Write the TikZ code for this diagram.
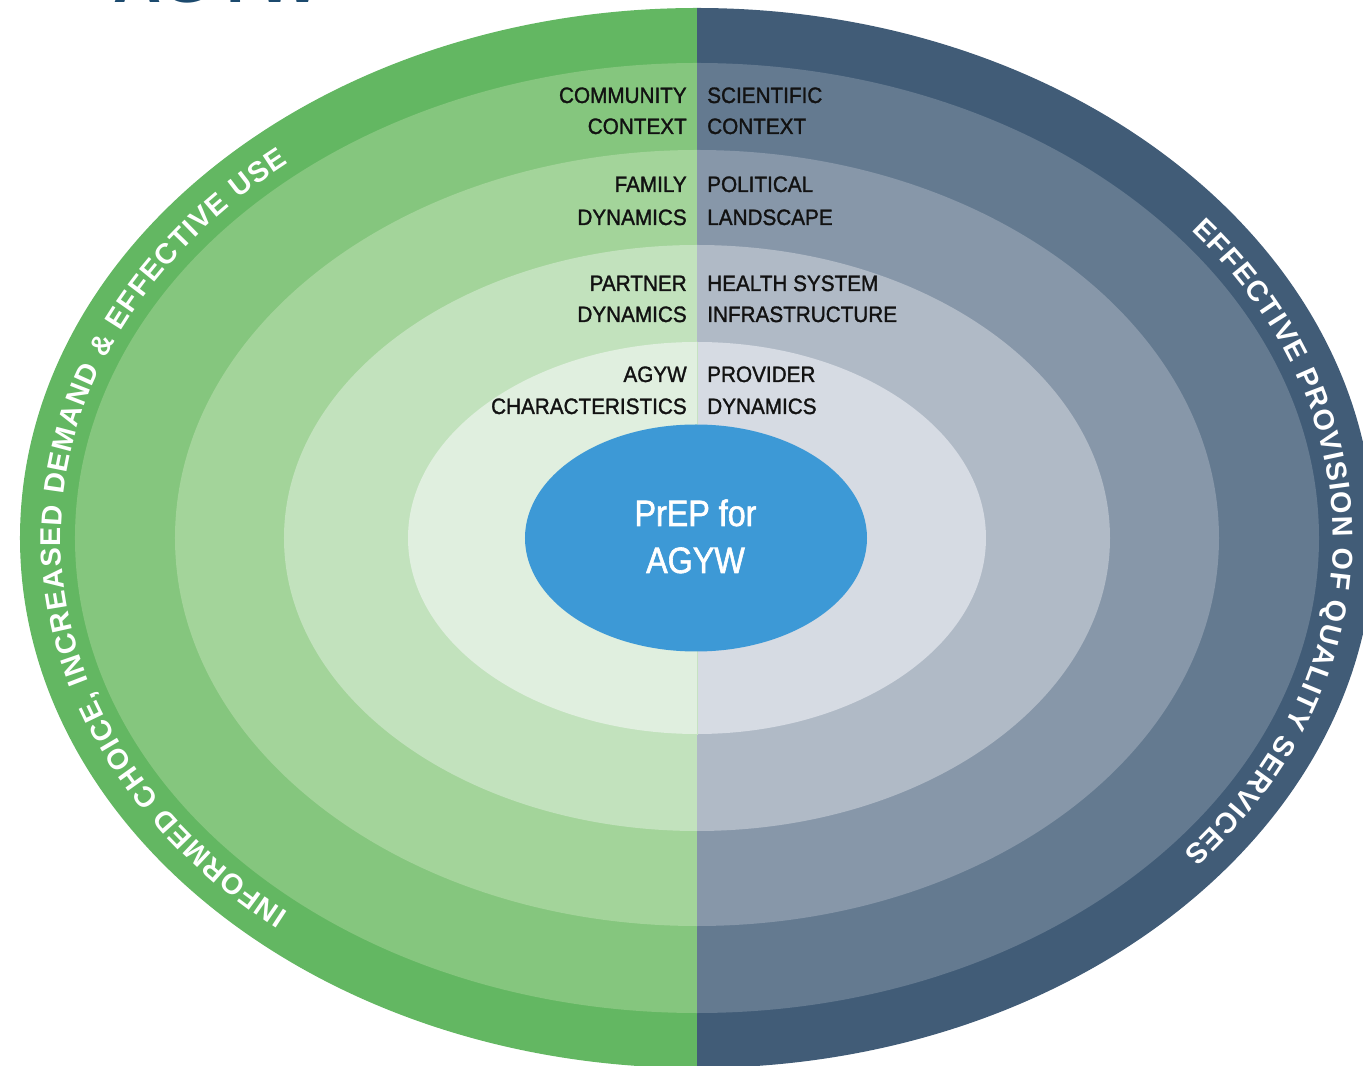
\documentclass[tikz,border=0pt]{standalone}
\usepackage{fontspec}
\setmainfont{Liberation Sans}
\newfontfamily\condfont{Liberation Sans}[FakeStretch=0.93, FakeBold=1.4]
\newfontfamily\corefont{Liberation Sans}[FakeStretch=0.88, FakeBold=1.6]
\usetikzlibrary{decorations.text,shapes.geometric}
\definecolor{gA}{HTML}{63B762}
\definecolor{gB}{HTML}{85C67E}
\definecolor{gC}{HTML}{A3D49A}
\definecolor{gD}{HTML}{C2E2BD}
\definecolor{gE}{HTML}{E0EFDF}
\definecolor{bA}{HTML}{415C77}
\definecolor{bB}{HTML}{647A90}
\definecolor{bC}{HTML}{8797A9}
\definecolor{bD}{HTML}{B0BAC6}
\definecolor{bE}{HTML}{D6DBE3}
\definecolor{corecol}{HTML}{3D99D6}
\definecolor{labtxt}{HTML}{121212}
\definecolor{titlecol}{HTML}{1C4A6E}
\definecolor{seam}{HTML}{C6E2C2}
\tikzset{
  lab/.style={font=\condfont\fontsize{16.7}{20}\selectfont, text=labtxt, inner sep=0pt},
  coretext/.style={font=\corefont\fontsize{27.5}{30}\selectfont, text=white, inner sep=0pt, anchor=base},
  arclabel/.style={decorate, decoration={text along path, text align={fit to path}, text color=white, text={#1}}}
}
\begin{document}
\begin{tikzpicture}[x=0.75pt,y=0.75pt]
\useasboundingbox (-697,-528) rectangle (666,538);
% concentric half-ellipses
\foreach \rx/\ry/\g/\b in {677/530/gA/bA, 622/475/gB/bB, 522/388/gC/bC, 413/293/gD/bD, 289/196/gE/bE} {
  \fill[\g] (0,\ry) arc[start angle=90, end angle=270, x radius=\rx, y radius=\ry] -- cycle;
  \fill[\b] (0,-\ry) arc[start angle=-90, end angle=90, x radius=\rx, y radius=\ry] -- cycle;
}
\draw[seam, line width=0.75pt] (0.5,196) -- (0.5,-197);
% centre
\node[ellipse, fill=corecol, minimum width=256.5pt, minimum height=170.25pt, inner sep=0pt] (core) at (-1,0) {};
\node[coretext] (prepA) at (-1.5,12) {PrEP for};
\node[coretext] (prepB) at (-1.5,-35) {AGYW};
% left labels
\node[lab, anchor=base east] (commA) at (-10,435) {COMMUNITY};
\node[lab, anchor=base east] (commB) at (-10,404) {CONTEXT};
\node[lab, anchor=base east] (famA) at (-10,346) {FAMILY};
\node[lab, anchor=base east] (famB) at (-10,313) {DYNAMICS};
\node[lab, anchor=base east] (partA) at (-10,247) {PARTNER};
\node[lab, anchor=base east] (partB) at (-10,216) {DYNAMICS};
\node[lab, anchor=base east] (agywA) at (-10,156) {AGYW};
\node[lab, anchor=base east] (agywB) at (-10,124) {CHARACTERISTICS};
% right labels
\node[lab, anchor=base west] (sciA) at (10,435) {SCIENTIFIC};
\node[lab, anchor=base west] (sciB) at (10,404) {CONTEXT};
\node[lab, anchor=base west] (polA) at (10,346) {POLITICAL};
\node[lab, anchor=base west] (polB) at (10,313) {LANDSCAPE};
\node[lab, anchor=base west] (hsA) at (10,247) {HEALTH SYSTEM};
\node[lab, anchor=base west] (hsB) at (10,216) {INFRASTRUCTURE};
\node[lab, anchor=base west] (provA) at (10,156) {PROVIDER};
\node[lab, anchor=base west] (provB) at (10,124) {DYNAMICS};
% curved labels in outer band
\path[arclabel={|\bfseries\fontsize{21.5}{22}\selectfont|INFORMED CHOICE, INCREASED DEMAND {\&} EFFECTIVE USE}]
  (230:636 and 489) arc[start angle=230, end angle=130, x radius=636, y radius=489];
\path[arclabel={|\bfseries\fontsize{21.5}{22}\selectfont|EFFECTIVE PROVISION OF QUALITY SERVICES}]
  (39:636 and 489) arc[start angle=39, end angle=-40, x radius=636, y radius=489];
% title fragment at top edge
\node[font=\bfseries\fontsize{50}{50}\selectfont, text=titlecol, anchor=base west, inner sep=0pt] (title) at (-584,535.5) {AGYW};
\end{tikzpicture}
\end{document}
